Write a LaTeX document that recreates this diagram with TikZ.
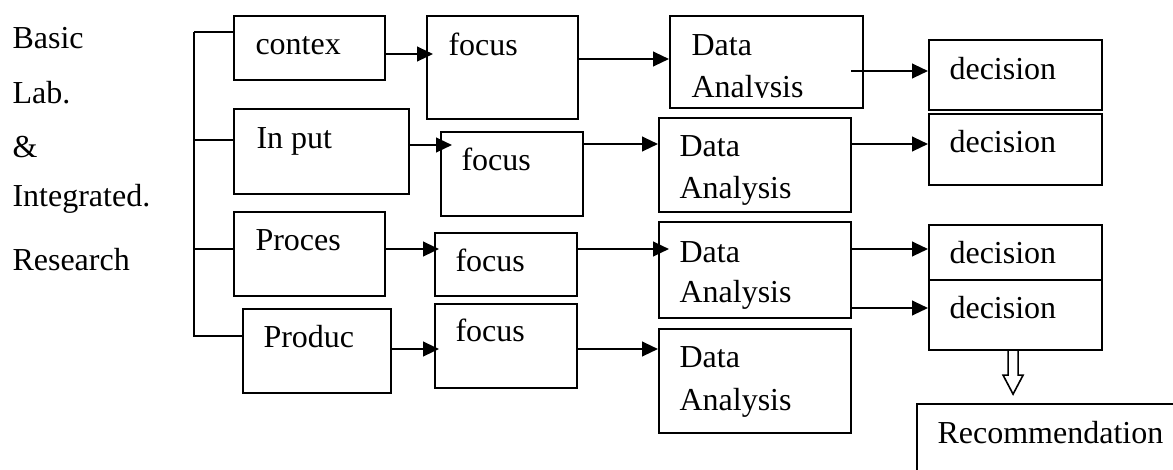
\documentclass[tikz,border=0pt]{standalone}
\usepackage{fontspec}
\setmainfont{Liberation Serif}
\usetikzlibrary{arrows.meta}
\newlength\pxu
\setlength\pxu{0.375pt}

\begin{document}
\begin{tikzpicture}[x=0.375pt, y=-0.375pt,
    box/.style={draw, line width=0.8pt, anchor=north west, inner sep=0pt},
    txt/.style={anchor=base west, inner sep=0pt, font=\fontsize{12}{14}\selectfont},
    arr/.style={-{Triangle[length=6pt,width=5.5pt]}, line width=0.8pt},
    hollow/.style={line width=0.6pt}]
  \clip (0,0) rectangle (1173,469);
  % left hand title
  \node[txt] (t1) at (12,48)  {Basic};
  \node[txt] (t2) at (12,103) {Lab.};
  \node[txt] (t3) at (12,157) {\&};
  \node[txt] (t4) at (12,206) {Integrated.};
  \node[txt] (t5) at (12,270) {Research};
  % first column
  \node[box, minimum width=151\pxu, minimum height=64\pxu] (ctx) at (233,15)  {};
  \node[box, minimum width=175\pxu, minimum height=85\pxu] (inp) at (233,108) {};
  \node[box, minimum width=151\pxu, minimum height=84\pxu] (prc) at (233,211) {};
  \node[box, minimum width=148\pxu, minimum height=84\pxu] (prd) at (242,308) {};
  \node[txt] (ctx-t) at (255,54)  {contex};
  \node[txt] (inp-t) at (256,148) {In put};
  \node[txt] (prc-t) at (255,250) {Proces};
  \node[txt] (prd-t) at (263,347) {Produc};
  % bracket joining the first column
  \coordinate (brtop) at (194,32);
  \coordinate (brbot) at (194,337);
  \draw[line width=0.8pt] (brtop) -- (brbot);
  \draw[line width=0.8pt] (brtop) -- (brtop -| ctx.west);
  \draw[line width=0.8pt] (brtop |- 0,140) -- (inp.west |- 0,140);
  \draw[line width=0.8pt] (brtop |- 0,249) -- (prc.west |- 0,249);
  \draw[line width=0.8pt] (brtop |- 0,336) -- (prd.west |- 0,336);
  % focus column
  \node[box, minimum width=151\pxu, minimum height=103\pxu] (fc1) at (426,15)  {};
  \node[box, minimum width=142\pxu, minimum height=84\pxu]  (fc2) at (440,131) {};
  \node[box, minimum width=142\pxu, minimum height=63\pxu]  (fc3) at (434,232) {};
  \node[box, minimum width=142\pxu, minimum height=84\pxu]  (fc4) at (434,303) {};
  \node[txt] (fc1-t) at (448,55)  {focus};
  \node[txt] (fc2-t) at (461,170) {focus};
  \node[txt] (fc3-t) at (455,271) {focus};
  \node[txt] (fc4-t) at (455,341) {focus};
  % data analysis column
  \node[box, minimum width=193\pxu, minimum height=92\pxu]  (da1) at (669,15)  {};
  \node[box, minimum width=192\pxu, minimum height=94\pxu]  (da2) at (658,117) {};
  \node[box, minimum width=192\pxu, minimum height=96\pxu]  (da3) at (658,221) {};
  \node[box, minimum width=192\pxu, minimum height=104\pxu] (da4) at (658,328) {};
  \node[txt] (da1-a) at (691,55) {Data};
  % the first box cuts its second line off at the baseline
  \begin{scope}
    \clip (669,15) rectangle (862,97.5);
    \node[txt] (da1-b) at (691,97) {Analysis};
  \end{scope}
  \node[txt] (da2-a) at (679,156) {Data};
  \node[txt] (da2-b) at (679,198) {Analysis};
  \node[txt] (da3-a) at (679,262) {Data};
  \node[txt] (da3-b) at (679,302) {Analysis};
  \node[txt] (da4-a) at (679,367) {Data};
  \node[txt] (da4-b) at (679,410) {Analysis};
  % decision column
  \node[box, minimum width=173\pxu, minimum height=70\pxu] (dc1) at (928,39)  {};
  \node[box, minimum width=173\pxu, minimum height=71\pxu] (dc2) at (928,113) {};
  \node[box, minimum width=173\pxu, minimum height=55\pxu] (dc3) at (928,224) {};
  \node[box, minimum width=173\pxu, minimum height=70\pxu] (dc4) at (928,279) {};
  \node[txt] (dc1-t) at (949,79)  {decision};
  \node[txt] (dc2-t) at (949,152) {decision};
  \node[txt] (dc3-t) at (949,263) {decision};
  \node[txt] (dc4-t) at (949,318) {decision};
  % recommendation, running off the page
  \node[box, minimum width=300\pxu, minimum height=120\pxu] (rec) at (916,403) {};
  \node[txt] (rec-t) at (937,443) {Recommendation};
  % arrows into focus
  \draw[arr, shorten >=-7\pxu]  (ctx.east |- 0,54)  -- (fc1.west |- 0,54);
  \draw[arr, shorten >=-12\pxu] (inp.east |- 0,145) -- (fc2.west |- 0,145);
  \draw[arr, shorten >=-5\pxu]  (prc.east |- 0,249) -- (fc3.west |- 0,249);
  \draw[arr, shorten >=-5\pxu]  (prd.east |- 0,349) -- (fc4.west |- 0,349);
  % arrows into data analysis
  \draw[arr] (fc1.east |- 0,59)  -- (da1.west |- 0,59);
  \draw[arr] (fc2.east |- 0,144) -- (da2.west |- 0,144);
  \draw[arr, shorten >=-11\pxu] (fc3.east |- 0,249) -- (da3.west |- 0,249);
  \draw[arr] (fc4.east |- 0,349) -- (da4.west |- 0,349);
  % arrows into decision
  \draw[arr, shorten <=-13\pxu] (da1.east |- 0,71) -- (dc1.west |- 0,71);
  \draw[arr] (da2.east |- 0,144) -- (dc2.west |- 0,144);
  \draw[arr] (da3.east |- 0,249) -- (dc3.west |- 0,249);
  \draw[arr] (da3.east |- 0,308) -- (dc4.west |- 0,308);
  % hollow arrow down to the recommendation
  \draw[hollow] ([xshift=-7.5\pxu]dc4.south) -- ++(0,24) -- ++(-5,0) -- ++(10,19)
    -- ++(10,-19) -- ++(-5,0) -- ++(0,-24);
\end{tikzpicture}
\end{document}
